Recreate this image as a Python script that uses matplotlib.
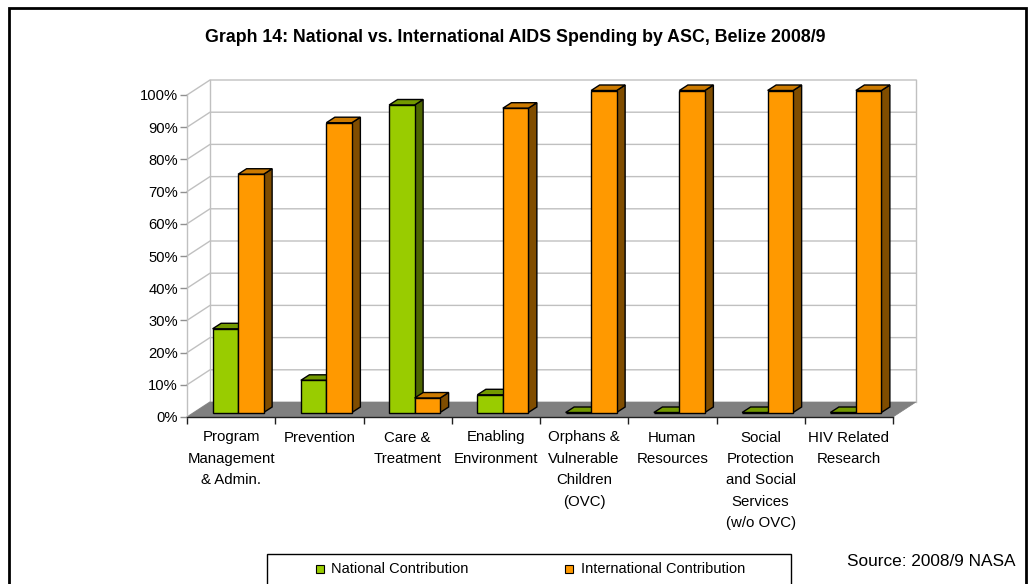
import matplotlib
matplotlib.use("Agg")
import matplotlib.pyplot as plt
from matplotlib.patches import Polygon, Rectangle
from matplotlib.ticker import FuncFormatter

plt.rcParams['font.family'] = ['Liberation Sans', 'DejaVu Sans']

# ---------------- data ----------------
title = "Graph 14: National vs. International AIDS Spending by ASC, Belize 2008/9"
categories = ["Program\nManagement\n& Admin.", "Prevention", "Care &\nTreatment",
              "Enabling\nEnvironment", "Orphans &\nVulnerable\nChildren\n(OVC)",
              "Human\nResources", "Social\nProtection\nand Social\nServices\n(w/o OVC)",
              "HIV Related\nResearch"]
series_names = ["National Contribution", "International Contribution"]
national = [26, 10, 95.5, 5.5, 0, 0, 0, 0]
international = [74, 90, 4.5, 94.5, 100, 100, 100, 100]
yticks = [0, 10, 20, 30, 40, 50, 60, 70, 80, 90, 100]
source = "Source: 2008/9 NASA"

# ---------------- style ----------------
W, H = 1028, 584
front_cols = ["#99CC00", "#FF9900"]
top_cols = ["#739900", "#CC7A00"]
side_cols = ["#4D6600", "#804D00"]
grid_col = "#C0C0C0"

fig = plt.figure(figsize=(W / 100, H / 100), dpi=100)
# front plane of the 3D box in pixels
x_left, x_right, y_zero, y_top = 187, 893, 417, 95
ax = fig.add_axes([x_left / W, 1 - y_zero / H, (x_right - x_left) / W, (y_zero - y_top) / H])
n = len(categories)
ax.set_xlim(0, n)
ax.set_ylim(0, 100)
px_x = (x_right - x_left) / n      # pixels per category
px_y = (y_zero - y_top) / 100.0    # pixels per percent

def dxu(p):
    return p / px_x

def dyu(p):
    return p / px_y

# depth of the box
Dx, Dy = dxu(23), dyu(15)

# floor
ax.add_patch(Polygon([(0, 0), (n, 0), (n + Dx, Dy), (Dx, Dy)], closed=True,
                     facecolor="#808080", edgecolor="#808080", lw=0.5, clip_on=False, zorder=1))

# gridlines on side & back walls
for v in yticks[1:]:
    ax.plot([0, Dx, n + Dx], [v, v + Dy, v + Dy], color=grid_col, lw=1.0,
            clip_on=False, zorder=0.5)
ax.plot([Dx, Dx], [Dy, 100 + Dy], color=grid_col, lw=1.0, clip_on=False, zorder=0.5)
ax.plot([n + Dx, n + Dx], [Dy, 100 + Dy], color=grid_col, lw=1.0, clip_on=False, zorder=0.5)
ax.plot([0, Dx], [0, Dy], color=grid_col, lw=1.0, clip_on=False, zorder=0.5)

# bars
cluster = dxu(51)
bw = cluster / 2
fx, fy = dxu(7), dyu(4.5)
bx, by = dxu(8.5), dyu(5.5)
vals = [national, international]
z = 2
for i in range(n):
    for s in range(2):
        v = vals[s][i]
        x0 = i + 0.5 - cluster / 2 + s * bw + fx
        x1 = x0 + bw
        y0 = fy
        y1 = fy + v
        side = [(x1, y0), (x1 + bx, y0 + by), (x1 + bx, y1 + by), (x1, y1)]
        top = [(x0, y1), (x1, y1), (x1 + bx, y1 + by), (x0 + bx, y1 + by)]
        front = [(x0, y0), (x1, y0), (x1, y1), (x0, y1)]
        for poly, col in ((side, side_cols[s]), (top, top_cols[s]), (front, front_cols[s])):
            ax.add_patch(Polygon(poly, closed=True, facecolor=col, edgecolor="black",
                                 lw=1.0, joinstyle="miter", clip_on=False, zorder=z))
            z += 0.01

# axes styling
for sp in ["top", "right"]:
    ax.spines[sp].set_visible(False)
ax.spines["left"].set_color(grid_col)
ax.spines["left"].set_linewidth(1.0)
ax.spines["bottom"].set_color("#202020")
ax.spines["bottom"].set_linewidth(1.0)
ax.spines["bottom"].set_zorder(5)
ax.patch.set_visible(False)

ax.set_yticks(yticks)
ax.yaxis.set_major_formatter(FuncFormatter(lambda v, p: f"{int(v)}%"))
ax.tick_params(axis="y", direction="out", length=5, width=1, color="#909090",
               labelsize=10.6, pad=1.5)
ax.set_xticks(range(n + 1))
ax.set_xticklabels([])
ax.tick_params(axis="x", direction="out", length=5, width=1, color="#202020")
for i, lab in enumerate(categories):
    ax.text(i + 0.5, dyu(-13.5), lab, ha="center", va="top", fontsize=10.8,
            linespacing=1.68, clip_on=False)

# title
fig.text(515 / W, 1 - 37 / H, title, ha="center", va="center", fontsize=12.8,
         fontweight="bold")

# outer border
fig.patches.append(Rectangle((8.5 / W, -0.1), (1026 - 8.5) / W, 1.1 - 8.5 / H,
                             transform=fig.transFigure, facecolor="none",
                             edgecolor="black", lw=2.0))

# legend (bottom cut off as in the original)
fig.patches.append(Rectangle((267 / W, -0.05), (791 - 267) / W, 0.05 + 1 - 554 / H,
                             transform=fig.transFigure, facecolor="none",
                             edgecolor="black", lw=1.0))
leg_y = 569
for s, (mx, tx) in enumerate([(316, 331), (565, 581)]):
    fig.patches.append(Rectangle((mx / W, 1 - (leg_y + 4) / H), 8 / W, 8 / H,
                                 transform=fig.transFigure, facecolor=front_cols[s],
                                 edgecolor="black", lw=0.8))
    fig.text(tx / W, 1 - leg_y / H, series_names[s], ha="left", va="center",
             fontsize=10.5)

fig.text(847 / W, 1 - 561 / H, source, ha="left", va="center", fontsize=12.4)

fig.savefig("out.png", dpi=100)
